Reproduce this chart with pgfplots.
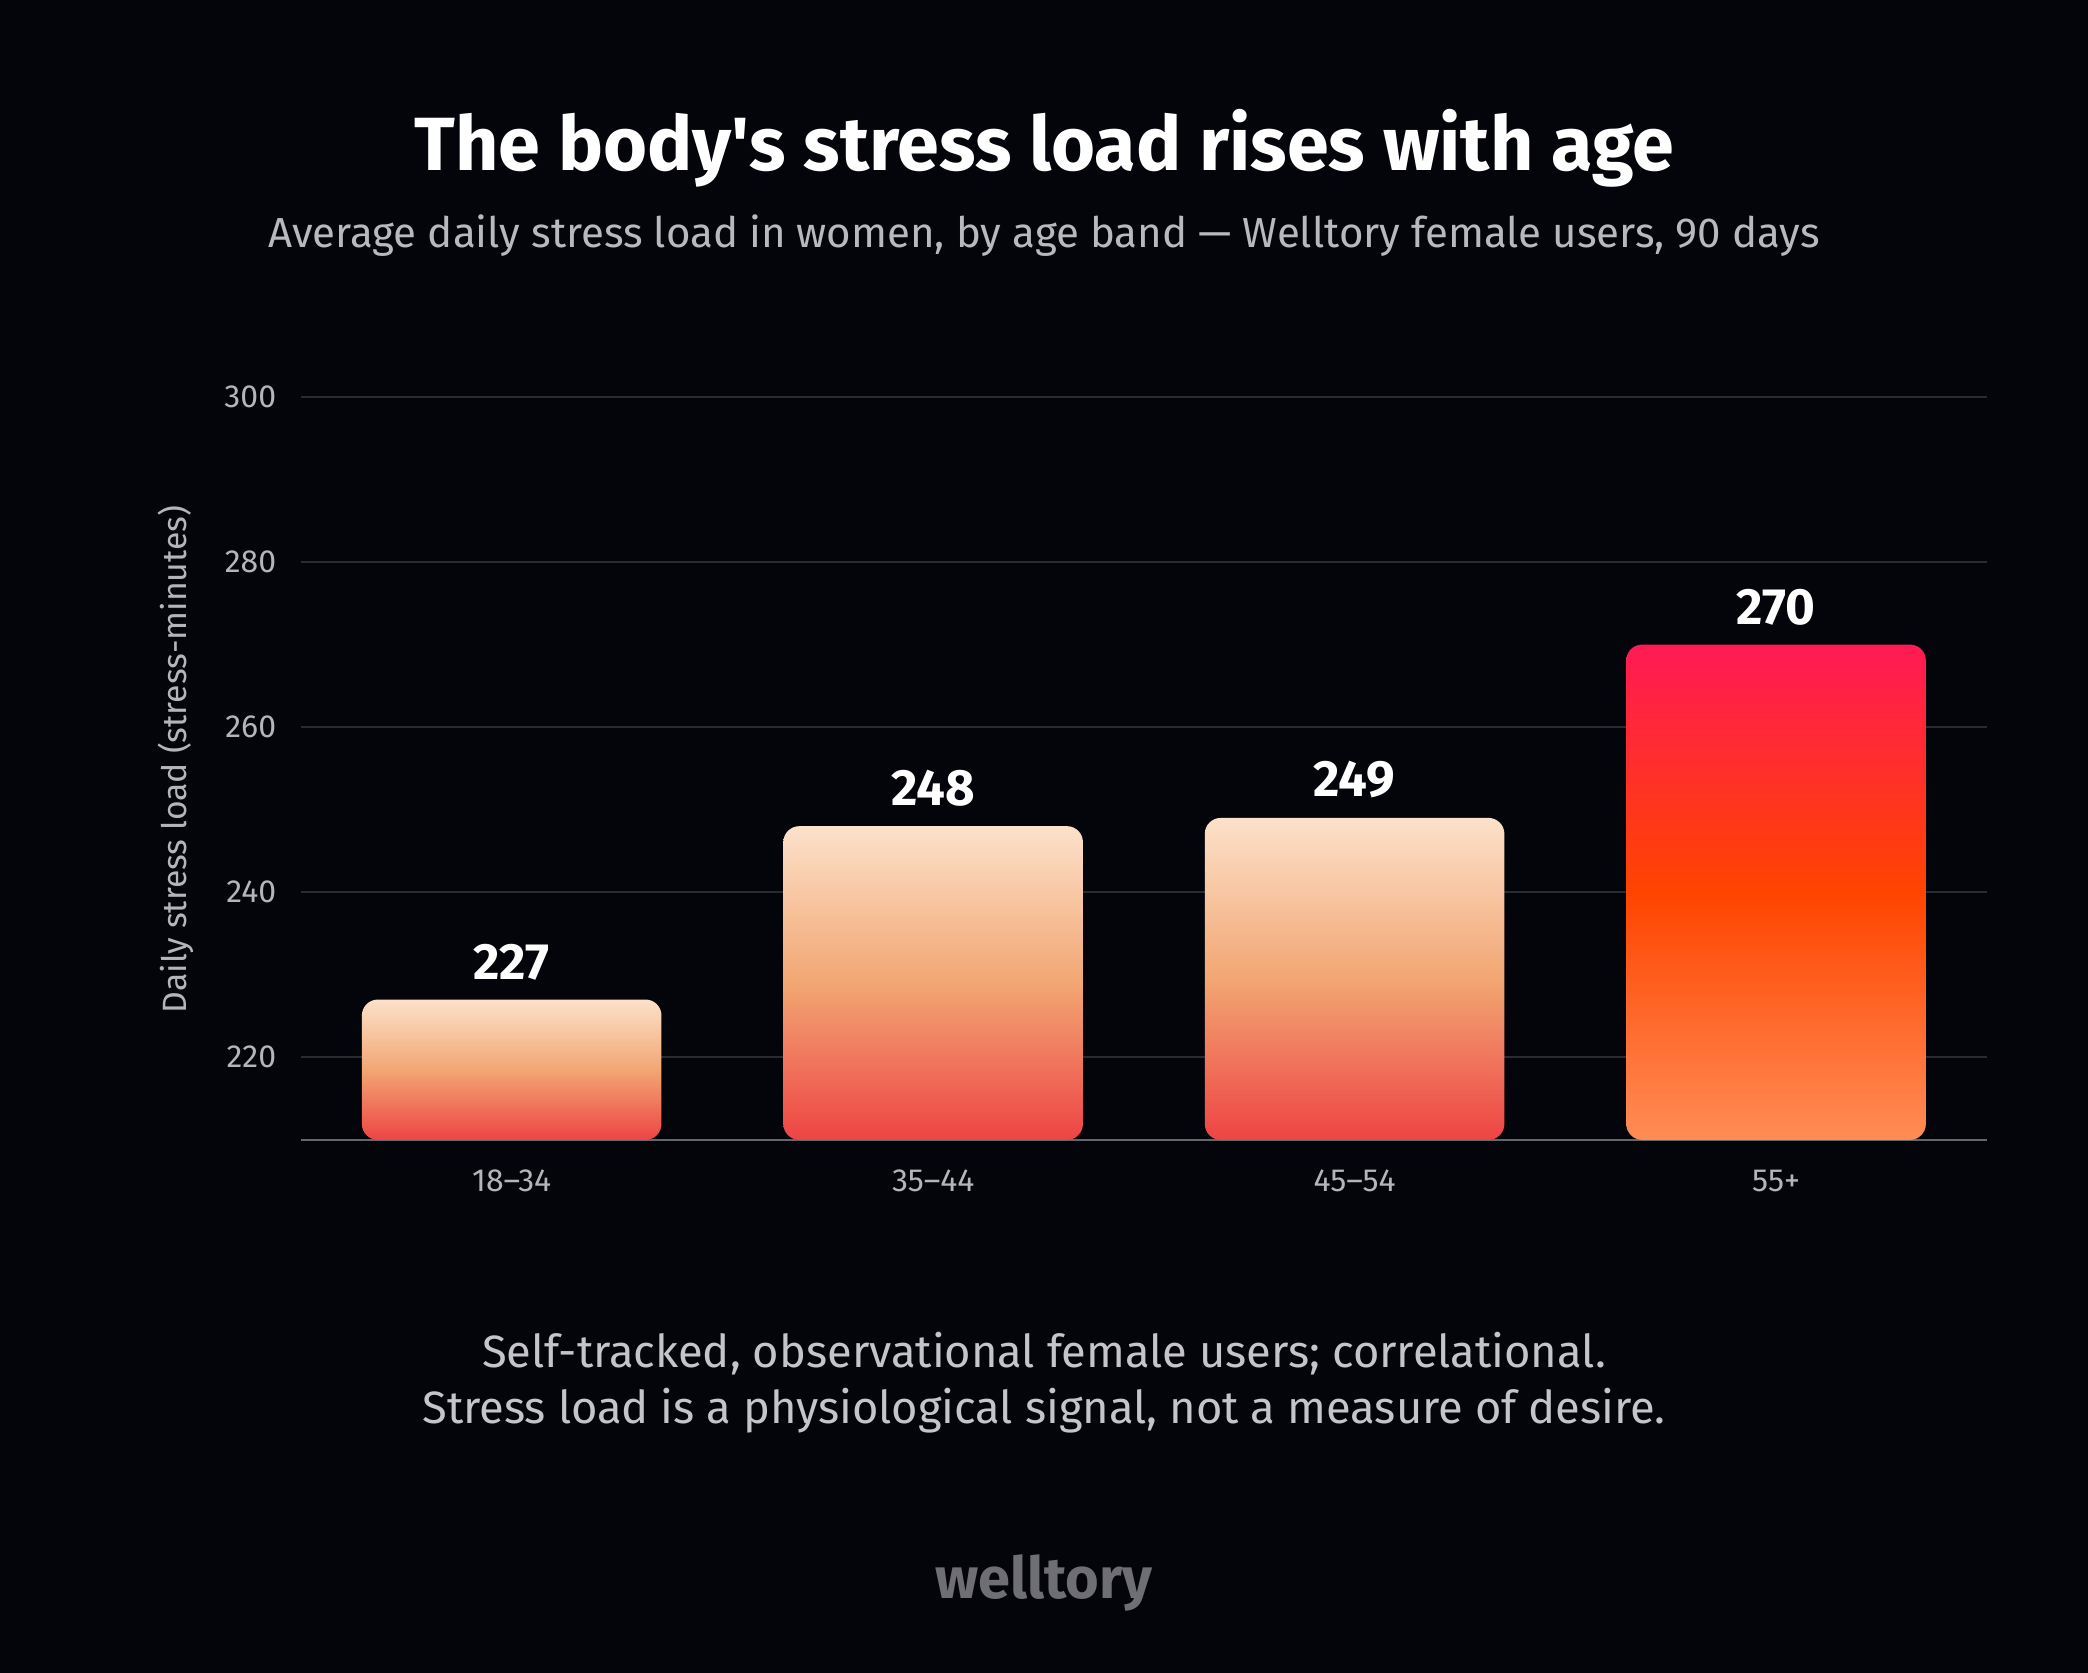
\documentclass[border=0pt]{standalone}
\usepackage{pgfplots}
\pgfplotsset{compat=1.18}
\usepackage{fontspec}
\setmainfont{Fira Sans}

\definecolor{bg}{HTML}{04050A}
\definecolor{gridgrey}{HTML}{2A2B30}
\definecolor{axisgrey}{HTML}{66676C}
\definecolor{tickgrey}{HTML}{B4B4BA}
\definecolor{subgrey}{HTML}{B8B8BF}
\definecolor{notegrey}{HTML}{C4C4CA}
\definecolor{brandgrey}{HTML}{6E6E73}
\definecolor{peachtop}{HTML}{FCE1CA}
\definecolor{peachmid}{HTML}{F2A673}
\definecolor{peachbot}{HTML}{EE4444}
\definecolor{hottop}{HTML}{FF1A55}
\definecolor{hotmid}{HTML}{FF4400}
\definecolor{hotbot}{HTML}{FF8C55}

\pgfdeclareverticalshading{peach}{100bp}{color(0bp)=(peachbot); color(25bp)=(peachbot);
  color(50bp)=(peachmid); color(75bp)=(peachtop); color(100bp)=(peachtop)}
\pgfdeclareverticalshading{hot}{100bp}{color(0bp)=(hotbot); color(25bp)=(hotbot);
  color(50bp)=(hotmid); color(75bp)=(hottop); color(100bp)=(hottop)}

\newcommand{\fs}[1]{\fontsize{#1}{1.2\dimexpr#1\relax}\selectfont}

\begin{document}
\begin{tikzpicture}
  % canvas: 1 reference px (at 1568 wide) = 0.3bp
  \fill[bg] (0,0) rectangle (470.4bp,-376.8bp);

  \node[anchor=base, text=white, font=\fs{17bp}\bfseries] at (235.2bp,-38.4bp)
    {The body\textquotesingle s stress load rises with age};
  \node[anchor=base, text=subgrey, font=\fs{9.46bp}] at (235.2bp,-55.8bp)
    {Average daily stress load in women, by age band — Welltory female users, 90 days};

  \begin{axis}[
    at={(67.8bp,-256.8bp)}, anchor=south west,
    scale only axis, width=379.8bp, height=167.4bp,
    xmin=-0.5, xmax=3.5, ymin=210, ymax=300,
    y coord trafo/.code={\pgfmathparse{#1-210}},
    y coord inv trafo/.code={\pgfmathparse{#1+210}},
    xtick={0,1,2,3},
    xticklabels={18–34, 35–44, 45–54, 55+},
    ytick={220,240,260,280,300},
    yticklabels={220,240,260,280,300},
    major tick length=0pt, tick style={draw=none},
    separate axis lines,
    axis x line*=bottom, axis y line*=left,
    x axis line style={draw=axisgrey, line width=0.6bp},
    y axis line style={draw=none},
    ymajorgrids, grid style={draw=gridgrey, line width=0.4bp},
    yticklabel style={font=\fs{7.2bp}, text=tickgrey, anchor=east, inner sep=0pt, xshift=-5.4bp},
    xticklabel style={font=\fs{7.2bp}, text=tickgrey, anchor=north, inner sep=0pt, yshift=-6.6bp},
    ylabel={Daily stress load (stress-minutes)},
    every axis y label/.style={at={(axis description cs:-0.0742,0.512)}, rotate=90, anchor=center,
      font=\fs{7.6bp}, text=tickgrey},
    /pgf/number format/assume math mode=true,
    ybar, bar width=67.5bp,
    point meta=rawy,
    nodes near coords,
    nodes near coords style={font=\fs{11.5bp}\bfseries, text=white, anchor=south, inner sep=0pt, yshift=4.2bp},
  ]
    \addplot[bar shift=0pt, draw=none, shading=peach, rounded corners=3.6bp] coordinates {(0,227)};
    \addplot[bar shift=0pt, draw=none, shading=peach, rounded corners=3.6bp] coordinates {(1,248)};
    \addplot[bar shift=0pt, draw=none, shading=peach, rounded corners=3.6bp] coordinates {(2,249)};
    \addplot[bar shift=0pt, draw=none, shading=hot, rounded corners=3.6bp] coordinates {(3,270)};
  \end{axis}

  \node[anchor=base, text=notegrey, font=\fs{10.2bp}] at (235.2bp,-308.1bp)
    {Self-tracked, observational female users; correlational.};
  \node[anchor=base, text=notegrey, font=\fs{10.2bp}] at (235.2bp,-320.7bp)
    {Stress load is a physiological signal, not a measure of desire.};
  \node[anchor=base, text=brandgrey, font=\fs{13bp}\bfseries] at (235.2bp,-360.2bp) {welltory};
\end{tikzpicture}
\end{document}
